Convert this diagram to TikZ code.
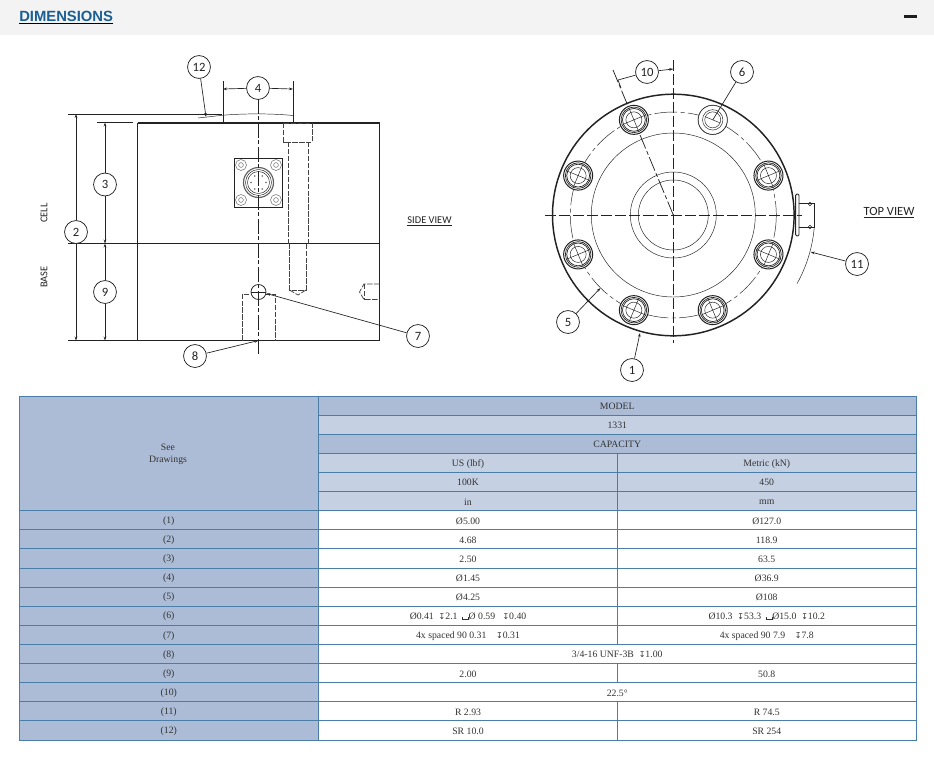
\documentclass[tikz,border=0pt]{standalone}
\usepackage{fontspec}
\setmainfont{Liberation Serif}
\newfontfamily\labf{Carlito}
\newfontfamily\headf{Liberation Sans}
\newfontfamily\symf{DejaVu Sans}
\usetikzlibrary{arrows.meta,calc}
\definecolor{tbline}{HTML}{4A7EA6}
\definecolor{hdark}{HTML}{ADBCD6}
\definecolor{hlight}{HTML}{C5D0E3}
\definecolor{headbar}{HTML}{F3F3F3}
\definecolor{headblue}{HTML}{1B5E94}
\definecolor{ink}{HTML}{222222}
\newcommand{\dia}{Ø}
\newcommand{\dep}{{\symf\fontsize{6}{6}\selectfont ↧}}
\newcommand{\cbore}{\rule{.35pt}{1.8pt}\rule{4pt}{.35pt}\rule{.35pt}{1.8pt}}
% cell: name, x1, x2, first row, end row, fill, text
\newcommand{\tcell}[7]{%
  \pgfmathsetmacro{\ya}{396+19.11*#4}%
  \pgfmathsetmacro{\yb}{396+19.11*#5}%
  \pgfmathsetmacro{\xm}{(#2+#3)/2}%
  \pgfmathsetmacro{\ym}{(\ya+\yb)/2+0.8}%
  \draw[tbrule,fill=#6] (#2,\ya) rectangle (#3,\yb);
  \node[celltext] (#1) at (\xm,\ym) {#7};
}
\tikzset{
  bubble/.style={circle,draw=ink,fill=white,line width=0.55pt,minimum size=17.2pt,inner sep=0pt,font=\labf\fontsize{9.5}{10}\selectfont,text=ink},
  celltext/.style={font=\fontsize{7.3}{8.6}\selectfont,text=black!80,align=center,inner sep=0pt},
  tbrule/.style={draw=tbline,line width=0.7pt},
  body/.style={draw=ink,line width=0.7pt},
  thinl/.style={draw=ink,line width=0.35pt},
  dim/.style={draw=ink!85,line width=0.45pt},
  lead/.style={draw=ink,line width=0.5pt,-{Stealth[length=3pt,width=2pt]}},
  hidden/.style={draw=ink!85,line width=0.55pt,dash pattern=on 4pt off 1.2pt},
  centre/.style={draw=ink,line width=0.55pt,dash pattern=on 11pt off 2pt on 3pt off 2pt},
  axis/.style={draw=ink,line width=0.55pt,dash pattern=on 8pt off 2.5pt},
  draws/.style={font=\labf\fontsize{7.8}{8}\selectfont,text=ink,inner sep=0pt},
}
\begin{document}
\begin{tikzpicture}[x=0.75pt,y=-0.75pt]
\useasboundingbox (0,0) rectangle (934,758);
\fill[white] (0,0) rectangle (934,758);
% header
\fill[headbar] (0,0) rectangle (934,35);
\node[anchor=west,inner sep=0pt,font=\headf\bfseries\fontsize{11.1}{12}\selectfont] (title) at (19,17.5)
  {\underline{\hbox{\textcolor{headblue}{DIMENSIONS}}}};
\fill[ink!85!black] (904,15) rectangle (917,18);

% ---- side view ----
\draw[body] (137.5,123) rectangle (379.5,340.5);
\draw[body,line width=0.9pt] (137.5,123) -- (379.5,123);
\draw[body,line width=1pt] (137.5,340.5) -- (379.5,340.5);
\draw[thinl] (68,243.5) -- (379.5,243.5);
\draw[thinl] (68,114) -- (222,114);
\draw[thinl] (68,340.5) -- (137.5,340.5);
\draw[thinl] (97,122.5) -- (133,122.5);
\draw[thinl] (223,81) -- (223,123);
\draw[thinl] (293,81) -- (293,123);
\draw[thinl] (198,118) -- (223,115.2) .. controls (245,113.4) and (272,113.4) .. (293,115.5);
% connector
\draw[body,fill=white] (234.5,158) rectangle (282.5,207);
\foreach \cx/\cy in {241/165,276/165,241/200,276/200}{
  \draw[thinl,draw=ink!70] (\cx,\cy) circle (5.5);
  \draw[thinl,draw=ink!70] (\cx,\cy) circle (2.4);
}
\draw[draw=ink!70,line width=0.9pt] (258.5,182.5) circle (15);
\draw[thinl] (258.5,182.5) circle (13);
\draw[thinl] (258.5,182.5) circle (11);
\foreach \a in {0,60,120,180,240,300}{\fill[ink!70] (258.5,182.5) ++(\a:7.5) circle (0.9);}
% bolt hidden
\draw[hidden] (283.5,123) rectangle (312.5,142);
\draw[hidden] (288,142) -- (288,243.5) (308,142) -- (308,243.5);
\draw[hidden] (289.5,243.5) -- (289.5,290) -- (306,290) -- (306,243.5);
\draw[hidden] (289.5,290) -- (298,295) -- (306,290);
\draw[hidden] (242,340.5) -- (242,294) -- (275,294) -- (275,340.5);
\draw[hidden] (379.5,284) -- (364,284) -- (359.5,292) -- (364,299.5) -- (379.5,299.5);
\draw[hidden] (364,284) -- (364,299.5);
% centre line and hole
\draw[draw=ink,line width=0.55pt,fill=white] (258.5,292) circle (7.5);
\draw[thinl] (251,292) -- (266,292);
\draw[centre] (258.5,99) -- (258.5,356);
% labels side view
\node[draws,rotate=90] (cell) at (44,213) {CELL};
\node[draws,rotate=90] (base) at (44,277) {BASE};
\node[draws] (sideview) at (429.5,221) {\underline{\hbox{SIDE VIEW}}};
% bubbles side view
\node[bubble] (b12) at (199,67) {12};
\node[bubble] (b4) at (258,88) {4};
\node[bubble] (b3) at (105,184.5) {3};
\node[bubble] (b2) at (76,232) {2};
\node[bubble] (b9) at (105,292) {9};
\node[bubble] (b8) at (195,356) {8};
\node[bubble] (b7) at (418,336) {7};
\coordinate (d4l) at (223,89); \coordinate (d4r) at (293,89);
\coordinate (d2t) at (76,114); \coordinate (d2b) at (76,340.5);
\coordinate (d3t) at (105,122.5); \coordinate (d3b) at (105,243.5);
\coordinate (d9t) at (105,243.5); \coordinate (d9b) at (105,340.5);
\coordinate (l12) at (206,117); \coordinate (l7) at (266.5,293.5); \coordinate (l8) at (258.5,340.5);
\foreach \f/\t in {b4/d4l,b4/d4r,b2/d2t,b2/d2b,b3/d3t,b3/d3b,b9/d9t,b9/d9b,b12/l12,b7/l7,b8/l8}{
  \draw[lead] (\f) -- (\t);
}

% ---- top view ----
\def\cx{673.3}\def\cy{215}
\draw[thinl] (\cx,\cy) circle (82);
\draw[thinl] (\cx,\cy) circle (43);
\draw[thinl] (\cx,\cy) circle (35);
\draw[thinl,dash pattern=on 17pt off 2.5pt on 3pt off 2.5pt] (\cx,\cy) circle (103);
% connector at right
\draw[thinl,line width=0.7pt,rounded corners=1pt] (795.7,194) rectangle (799,236);
\draw[thinl] (799,203.3) -- (814.7,203.3) -- (814.7,227.3) -- (799,227.3);
\draw[thinl] (810,204) circle (1.8);
\draw[thinl] (810,227) circle (1.8);
\draw[draw=ink,line width=1.1pt] (\cx,\cy) circle (120.8);
\draw[thinl] (\cx,\cy) ++(5.3:141.5) arc (5.3:29:141.5);
% axes
\draw[axis] (545,\cy) -- (802,\cy);
\draw[axis] (\cx,60) -- (\cx,343);
\draw[centre] (\cx,\cy) -- (613,70);
% bolts
\foreach \a in {22.5,67.5,...,337.5}{
  \begin{scope}[shift={(\cx,\cy)},rotate=\a]
    \draw[draw=ink,line width=0.75pt,fill=white] (103,0) circle (14.5);
    \draw[draw=ink,line width=0.5pt] (103,0) circle (12.8);
    \draw[draw=ink,line width=0.5pt] (103,0) circle (11.4);
    \draw[thinl] (103,0) circle (8);
    \draw[thinl] (90,0) -- (116,0) (103,-12) -- (103,12);
  \end{scope}
}
\begin{scope}[shift={(\cx,\cy)},rotate=67.5]
  \draw[thinl,fill=white] (103,0) circle (14.5);
  \draw[thinl] (103,0) circle (10.2);
  \draw[thinl] (103,0) circle (8);
  \draw[thinl] (103,-8) -- (103,8);
\end{scope}
% labels top view
\node[draws,font=\labf\fontsize{9.4}{10}\selectfont] (topview) at (889,213) {\underline{\hbox{TOP VIEW}}};
\node[bubble] (b10) at (647,72) {10};
\node[bubble] (b6) at (742,72) {6};
\node[bubble] (b11) at (857,264) {11};
\node[bubble] (b5) at (568,322) {5};
\node[bubble] (b1) at (632,370) {1};
\coordinate (l10a) at (618,80); \coordinate (l10b) at (673.3,69);
\coordinate (l6) at (712.7,120); \coordinate (l11) at (810.7,252);
\coordinate (l5) at (600.5,288); \coordinate (l1) at (640,333);
\draw[thinl,line width=0.5pt] (b10) -- (l10a);
\foreach \f/\t in {b10/l10b,b11/l11,b5/l5,b1/l1}{\draw[lead] (\f) -- (\t);}
\draw[thinl,line width=0.5pt] (b6) -- (l6);
\draw[thinl,line width=0.5pt] (l10a) -- (621,88);

% ---- table ----
\def\xa{19}\def\xb{318.5}\def\xc{617.5}\def\xd{916}
\tcell{see}{\xa}{\xb}{0}{6}{hdark}{}
\node[celltext] (seetxt) at (168,454.5) {See\\[0.5pt]Drawings};
\tcell{model}{\xb}{\xd}{0}{1}{hdark}{MODEL}
\tcell{num}{\xb}{\xd}{1}{2}{hlight}{1331}
\tcell{cap}{\xb}{\xd}{2}{3}{hdark}{CAPACITY}
\tcell{us}{\xb}{\xc}{3}{4}{hlight}{US (lbf)}
\tcell{met}{\xc}{\xd}{3}{4}{hlight}{Metric (kN)}
\tcell{usv}{\xb}{\xc}{4}{5}{hlight}{100K}
\tcell{metv}{\xc}{\xd}{4}{5}{hlight}{450}
\tcell{usu}{\xb}{\xc}{5}{6}{hlight}{in}
\tcell{metu}{\xc}{\xd}{5}{6}{hlight}{mm}
\foreach \r/\n/\u/\m in {
  6/1/{\dia5.00}/{\dia127.0},
  7/2/{4.68}/{118.9},
  8/3/{2.50}/{63.5},
  9/4/{\dia1.45}/{\dia36.9},
  10/5/{\dia4.25}/{\dia108},
  11/6/{\dia0.41\ \ \dep2.1\ \ \cbore\dia\ 0.59\ \ \ \dep0.40}/{\dia10.3\ \ \dep53.3\ \ \cbore\dia15.0\ \ \dep10.2},
  12/7/{4x spaced 90 0.31\ \ \ \ \dep0.31}/{4x spaced 90 7.9\ \ \ \ \dep7.8},
  14/9/{2.00}/{50.8},
  16/11/{R 2.93}/{R 74.5},
  17/12/{SR 10.0}/{SR 254}}{
  \pgfmathtruncatemacro{\re}{\r+1}
  \tcell{rl\n}{\xa}{\xb}{\r}{\re}{hdark}{(\n)}
  \tcell{ru\n}{\xb}{\xc}{\r}{\re}{white}{\u}
  \tcell{rm\n}{\xc}{\xd}{\r}{\re}{white}{\m}
}
\tcell{rl8}{\xa}{\xb}{13}{14}{hdark}{(8)}
\tcell{rv8}{\xb}{\xd}{13}{14}{white}{3/4-16 UNF-3B\ \ \dep1.00}
\tcell{rl10}{\xa}{\xb}{15}{16}{hdark}{(10)}
\tcell{rv10}{\xb}{\xd}{15}{16}{white}{22.5°}
\end{tikzpicture}
\end{document}
